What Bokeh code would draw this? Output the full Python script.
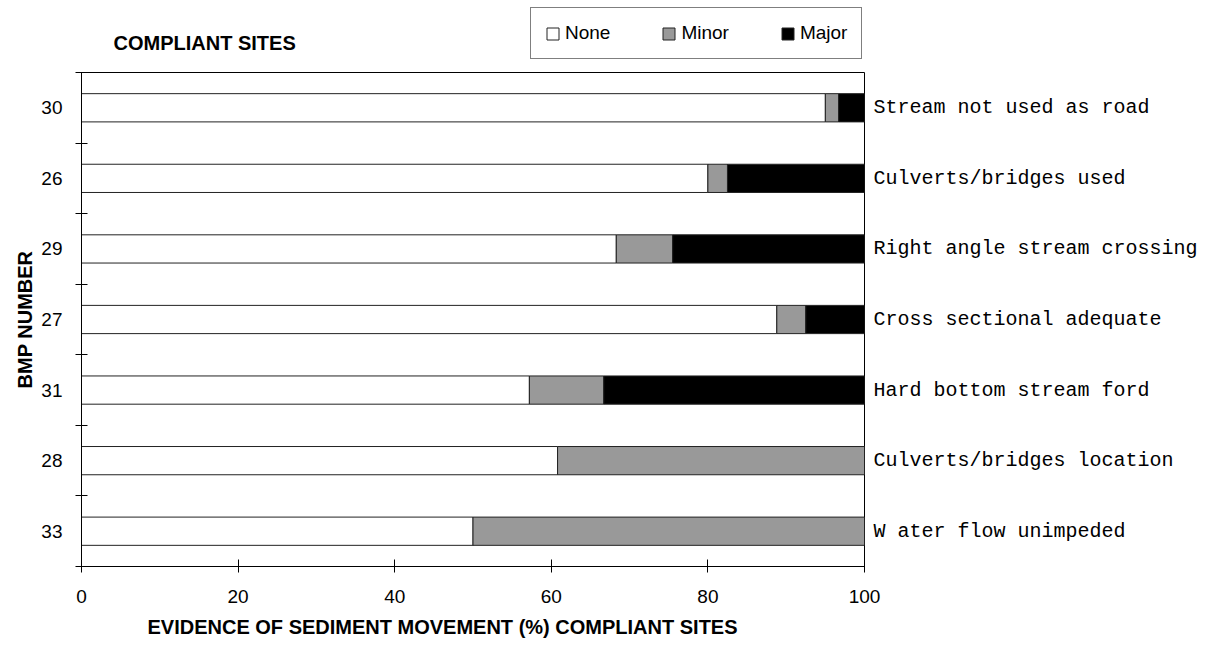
from bokeh.plotting import figure
from bokeh.layouts import column
from bokeh.models import (ColumnDataSource, Range1d, FixedTicker, Label,
                          Legend, LegendItem, LinearAxis, Title)
from bokeh.embed import file_html
from bokeh.resources import INLINE

# ---- data (top to bottom) ----
bmp_numbers = ["30", "26", "29", "27", "31", "28", "33"]
practices = ["Stream not used as road", "Culverts/bridges used",
             "Right angle stream crossing", "Cross sectional adequate",
             "Hard bottom stream ford", "Culverts/bridges location",
             "W ater flow unimpeded"]
none_pct = [95.0, 80.0, 68.3, 88.8, 57.2, 60.8, 50.0]
minor_pct = [1.7, 2.5, 7.2, 3.7, 9.5, 39.2, 50.0]
major_pct = [3.3, 17.5, 24.5, 7.5, 33.3, 0.0, 0.0]
series_names = ["None", "Minor", "Major"]
series_fields = ["none", "minor", "major"]
series_colors = ["white", "#999999", "black"]
x_ticks = [0, 20, 40, 60, 80, 100]

SANS = "Liberation Sans"
MONO = "Liberation Mono"
W = 1218
FRAME_LEFT = 81
FRAME_RIGHT = 864

n = len(bmp_numbers)
positions = list(range(n))
src = ColumnDataSource(dict(y=positions, none=none_pct, minor=minor_pct,
                            major=major_pct))

# ---------------- header figure: title + legend ----------------
# (its frame is aligned with the main chart's frame by the column layout;
#  its view range lies away from the data so only the legend shows)
top = figure(width=W, height=71, x_range=Range1d(0, 100),
             y_range=Range1d(n + 5, n + 6),
             output_backend="svg", toolbar_location=None,
             x_axis_location=None, y_axis_location=None,
             min_border_left=FRAME_LEFT, min_border_right=W - FRAME_RIGHT,
             min_border_top=0, min_border_bottom=0)
top.xgrid.visible = False
top.ygrid.visible = False
top.outline_line_color = None
top.border_fill_color = "white"
top.background_fill_color = "white"

legend_rs = top.hbar_stack(series_fields, y="y", height=0.4,
                           fill_color=series_colors, line_color="#222222",
                           line_width=1, source=src)

top.add_layout(Label(x=113 - FRAME_LEFT, y=29, x_units="screen",
                     y_units="screen", text="COMPLIANT SITES",
                     text_font=SANS, text_font_style="bold",
                     text_font_size="20px", text_baseline="middle",
                     text_color="black"))

legend = Legend(items=[LegendItem(label=nm, renderers=[r])
                       for nm, r in zip(series_names, legend_rs)],
                location=(530 - FRAME_LEFT, 12), orientation="horizontal",
                border_line_color="black", border_line_width=1,
                padding=14, spacing=51, margin=0,
                glyph_width=15, glyph_height=15, label_standoff=5,
                label_text_font=SANS, label_text_font_size="19px",
                label_text_color="black", background_fill_color="white",
                background_fill_alpha=1.0)
top.add_layout(legend)

# ---------------- main chart ----------------
p = figure(width=W, height=574,
           x_range=Range1d(0, 100), y_range=Range1d(n - 0.5, -0.5),
           output_backend="svg", toolbar_location=None,
           min_border_left=FRAME_LEFT, min_border_right=W - FRAME_RIGHT,
           min_border_top=1, min_border_bottom=79)
p.xgrid.visible = False
p.ygrid.visible = False
p.outline_line_color = "black"
p.outline_line_width = 1
p.background_fill_color = "white"
p.border_fill_color = "white"

p.hbar_stack(series_fields, y="y", height=0.4, fill_color=series_colors,
             line_color="#222222", line_width=1, source=src)

# x axis
xa = p.xaxis[0]
xa.ticker = FixedTicker(ticks=x_ticks)
xa.major_tick_in = 7
xa.major_tick_out = 6
xa.minor_tick_in = 0
xa.minor_tick_out = 0
xa.major_tick_line_color = "black"
xa.axis_line_color = "black"
xa.major_label_text_font = SANS
xa.major_label_text_font_size = "19px"
xa.major_label_text_color = "black"
xa.major_label_standoff = 17

# y axis (left): BMP numbers, ticks between categories
ya = p.yaxis[0]
ya.ticker = FixedTicker(ticks=positions,
                        minor_ticks=[i - 0.5 for i in range(n + 1)])
ya.major_label_overrides = {i: b for i, b in enumerate(bmp_numbers)}
ya.major_tick_in = 0
ya.major_tick_out = 0
ya.minor_tick_in = 6
ya.minor_tick_out = 6
ya.minor_tick_line_color = "black"
ya.axis_line_color = "black"
ya.major_label_text_font = SANS
ya.major_label_text_font_size = "19px"
ya.major_label_text_color = "black"
ya.major_label_standoff = 13
ya.axis_label = "BMP NUMBER"
ya.axis_label_text_font = SANS
ya.axis_label_text_font_style = "bold"
ya.axis_label_text_font_size = "20px"
ya.axis_label_text_color = "black"
ya.axis_label_standoff = 2

# right axis: practice names
ra = LinearAxis(ticker=FixedTicker(ticks=positions),
                major_label_overrides={i: t for i, t in enumerate(practices)},
                axis_line_color=None, major_tick_line_color=None,
                minor_tick_line_color=None, major_tick_in=0, major_tick_out=0,
                major_label_standoff=9, major_label_text_font=MONO,
                major_label_text_font_size="20px",
                major_label_text_color="black")
p.add_layout(ra, "right")

# x axis title
p.add_layout(Title(text="EVIDENCE OF SEDIMENT MOVEMENT (%) COMPLIANT SITES",
                   align="left", offset=147 - FRAME_LEFT, standoff=16,
                   text_font=SANS, text_font_style="bold",
                   text_font_size="20px", text_color="black"), "below")

layout = column(top, p, spacing=0)
open("out.html", "w").write(file_html(layout, INLINE))
